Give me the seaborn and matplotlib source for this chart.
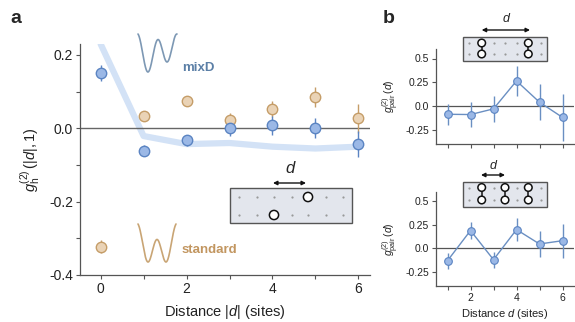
import numpy as np
import pandas as pd
import matplotlib
matplotlib.use("Agg")
import matplotlib.pyplot as plt
import seaborn as sns
from matplotlib.patches import Rectangle, Circle

# panel a data
dist = [0, 1, 2, 3, 4, 5, 6]
mixd_g = [0.152, -0.061, -0.032, 0.0, 0.008, 0.002, -0.043]
mixd_err = [0.022, 0.015, 0.015, 0.022, 0.025, 0.027, 0.036]
std_g = [-0.323, 0.034, 0.075, 0.023, 0.052, 0.085, 0.027]
std_err = [0.018, 0.012, 0.012, 0.02, 0.022, 0.027, 0.04]
theory_g = [0.23, -0.021, -0.043, -0.04, -0.05, -0.055, -0.05]

# panel b data
pair_d = [1, 2, 3, 4, 5, 6]
pair_top = [-0.087, -0.09, -0.03, 0.264, 0.04, -0.12]
pair_top_err = [0.11, 0.13, 0.14, 0.16, 0.19, 0.25]
pair_bot = [-0.131, 0.19, -0.12, 0.2, 0.047, 0.082]
pair_bot_err = [0.085, 0.09, 0.085, 0.12, 0.14, 0.18]

sns.set_theme(style="ticks")
plt.rcParams["font.family"] = ["Liberation Sans", "DejaVu Sans"]
plt.rcParams["mathtext.fontset"] = "custom"
plt.rcParams["mathtext.rm"] = "Liberation Sans"
plt.rcParams["mathtext.it"] = "Liberation Sans:italic"
plt.rcParams["axes.unicode_minus"] = False

BLUE_FILL = "#9bb8e6"
BLUE_EDGE = "#5b84c2"
TAN_FILL = "#ead3b6"
TAN_EDGE = "#c59d68"
THEORY = "#d3e2f6"
LINE_B = "#6a8fc2"
SPINE = "#555555"

W, H = 575, 322
fig = plt.figure(figsize=(W / 100, H / 100), dpi=100)


def px_axes(x0, y0, x1, y1):
    return fig.add_axes([x0 / W, 1 - y1 / H, (x1 - x0) / W, (y1 - y0) / H])


def style_axes(ax, fs):
    sns.despine(ax=ax)
    for s in ["left", "bottom"]:
        ax.spines[s].set_color(SPINE)
        ax.spines[s].set_linewidth(0.9)
    ax.tick_params(which="both", direction="out", color=SPINE, width=0.8,
                   labelsize=fs, labelcolor="#222222", pad=2)
    ax.tick_params(which="major", length=3)
    ax.tick_params(which="minor", length=3)


# ---- panel a ----
ax = px_axes(80, 44, 370, 275)
df_th = pd.DataFrame({"d": dist, "g": theory_g})
sns.lineplot(data=df_th, x="d", y="g", ax=ax, color=THEORY, lw=4.5, zorder=1)
ax.axhline(0, color="#666666", lw=1.0, zorder=2)
ax.errorbar(dist, std_g, yerr=std_err, fmt="none", ecolor=TAN_EDGE, elinewidth=1, zorder=3)
ax.errorbar(dist, mixd_g, yerr=mixd_err, fmt="none", ecolor=BLUE_EDGE, elinewidth=1, zorder=3)
ax.plot(dist, std_g, "o", ms=7.5, mfc=TAN_FILL, mec=TAN_EDGE, mew=1, zorder=4)
ax.plot(dist, mixd_g, "o", ms=7.5, mfc=BLUE_FILL, mec=BLUE_EDGE, mew=1, zorder=5)
ax.set_xlim(-0.48, 6.27)
ax.set_ylim(-0.4, 0.23)
ax.set_xticks([0, 2, 4, 6])
ax.set_xticks([1, 3, 5], minor=True)
ax.set_yticks([-0.4, -0.2, 0.0, 0.2])
ax.set_yticks([-0.3, -0.1, 0.1], minor=True)
ax.set_yticklabels(["-0.4", "-0.2", "0.0", "0.2"])
style_axes(ax, 10)
ax.set_xlabel("Distance $|d|$ (sites)", fontsize=10.5, labelpad=5, color="#222222")
ax.set_ylabel("$g_{\\rm h}^{(2)}\\,(|d|, 1)$", fontsize=10.5, labelpad=5, color="#222222")

# ---- panel b ----
axes_b = [px_axes(436, 49, 574, 144), px_axes(436, 192, 574, 286)]
for axb, vals, errs in zip(axes_b, [pair_top, pair_bot], [pair_top_err, pair_bot_err]):
    axb.axhline(0, color="#555555", lw=0.9, zorder=1)
    axb.errorbar(pair_d, vals, yerr=errs, fmt="none", ecolor=LINE_B, elinewidth=1, zorder=2)
    sns.lineplot(x=pair_d, y=vals, ax=axb, color=LINE_B, lw=1, marker="o", ms=5.5,
                 markerfacecolor=BLUE_FILL, markeredgecolor=BLUE_EDGE, markeredgewidth=0.8, zorder=3)
    axb.set_xlim(0.5, 6.5)
    axb.set_ylim(-0.4, 0.6)
    axb.set_yticks([-0.25, 0.0, 0.25, 0.5])
    axb.set_yticklabels(["-0.25", "0.0", "0.25", "0.5"])
    axb.set_xticks([2, 4, 6])
    axb.set_xticks([1, 3, 5], minor=True)
    style_axes(axb, 7.5)
    axb.set_ylabel("$g^{(2)}_{\\rm pair}\\,(d)$", fontsize=7.5, labelpad=3, color="#222222")
axes_b[0].set_xticklabels([])
axes_b[0].set_xlabel("")
axes_b[1].set_xlabel("Distance $d$ (sites)", fontsize=8, labelpad=3, color="#222222")

# ---- overlay drawings (pixel coordinates) ----
ov = fig.add_axes([0, 0, 1, 1], zorder=10)
ov.set_xlim(0, W)
ov.set_ylim(H, 0)
ov.axis("off")
ov.patch.set_alpha(0)

ov.text(10, 18, "a", fontsize=14, fontweight="bold", va="center", ha="left")
ov.text(383, 18, "b", fontsize=14, fontweight="bold", va="center", ha="left")

# double-well icons
t = np.linspace(-1, 1, 200)
well_mix = np.cos(2 * np.pi * t) + 0.4 * t ** 2 + 0.35 * np.sin(np.pi * t)
well_std = np.cos(2 * np.pi * t) + 1.18 * t ** 2


def draw_well(v, x0, x1, y0, y1, color):
    xs = x0 + (t + 1) / 2 * (x1 - x0)
    ys = y1 - (v - v.min()) / (v.max() - v.min()) * (y1 - y0)
    ov.plot(xs, ys, color=color, lw=1.2)


draw_well(well_mix, 138, 177, 34, 72, "#7d98b4")
draw_well(well_std, 138, 176, 224, 262, "#c9a575")
ov.text(182, 68, "mixD", fontsize=9.5, fontweight="bold", color="#5b7fa6", va="center")
ov.text(182, 250, "standard", fontsize=9.5, fontweight="bold", color="#c29660", va="center")


def lattice(x0, y0, x1, y1, cols, rows, occupied, r, dimer=False):
    ov.add_patch(Rectangle((x0, y0), x1 - x0, y1 - y0, fc="#e3e6ed", ec="#555555", lw=1))
    for ci, cx in enumerate(cols):
        for ri, ry in enumerate(rows):
            if (ci, ri) in occupied:
                ov.add_patch(Circle((cx, ry), r, fc="white", ec="#111111", lw=1.1, zorder=12))
            else:
                ov.plot(cx, ry, "o", ms=1.6, color="#999999", mew=0)
    if dimer:
        for ci in set(c for c, _ in occupied):
            ov.plot([cols[ci], cols[ci]], [rows[0], rows[1]], color="#111111", lw=1.1, zorder=11)


def arrow(xa, xb, y):
    ov.annotate("", xy=(xb, y), xytext=(xa, y),
                arrowprops=dict(arrowstyle="<|-|>", color="#111111", lw=1,
                                mutation_scale=6, shrinkA=0, shrinkB=0))


cols_a = [239, 257, 274, 292, 308, 326, 343]
lattice(230, 188, 352, 223, cols_a, [197, 215], {(4, 0), (2, 1)}, 4.6)
arrow(273, 306, 183)
ov.text(290, 168, "d", fontsize=12, style="italic", ha="center", va="center")

cols_b = [469.3, 481.7, 494, 505, 517, 528.3, 540.7]
lattice(463, 37, 547, 61, cols_b, [43, 54], {(1, 0), (1, 1), (5, 0), (5, 1)}, 3.8, dimer=True)
arrow(481.7, 530, 30)
ov.text(506, 19, "d", fontsize=9, style="italic", ha="center", va="center")

lattice(463, 182, 547, 207, cols_b, [187.5, 200], {(1, 0), (1, 1), (3, 0), (3, 1), (5, 0), (5, 1)}, 3.8, dimer=True)
arrow(481, 505, 175)
ov.text(493, 166, "d", fontsize=9, style="italic", ha="center", va="center")

fig.savefig("out.png", dpi=100)
